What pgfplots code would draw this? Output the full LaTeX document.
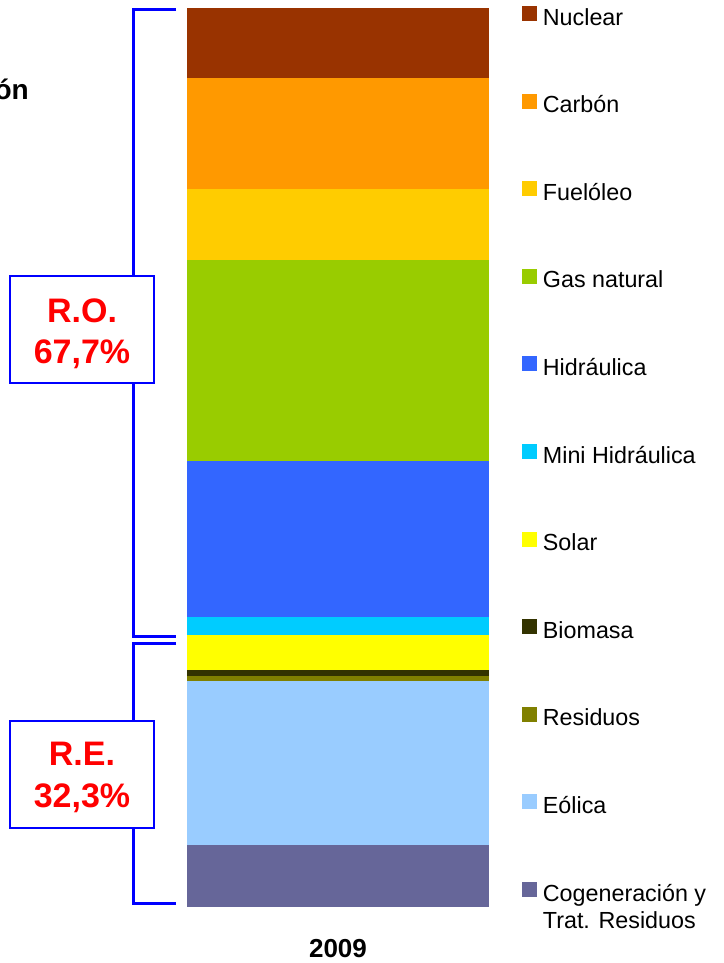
\documentclass[border=0pt]{standalone}
\usepackage{fontspec}
\setmainfont{Liberation Sans}
\usepackage{pgfplots}
\pgfplotsset{compat=1.18}
\definecolor{cNuc}{HTML}{993300}
\definecolor{cCar}{HTML}{FF9900}
\definecolor{cFue}{HTML}{FFCC00}
\definecolor{cGas}{HTML}{99CC00}
\definecolor{cHid}{HTML}{3366FF}
\definecolor{cMin}{HTML}{00CCFF}
\definecolor{cSol}{HTML}{FFFF00}
\definecolor{cBio}{HTML}{333300}
\definecolor{cRes}{HTML}{808000}
\definecolor{cEol}{HTML}{99CCFF}
\definecolor{cCog}{HTML}{666699}
\begin{document}
\begin{tikzpicture}[x=1pt,y=1pt]
\useasboundingbox (0,0) rectangle (723,963);
\begin{axis}[
  at={(187pt,56.3pt)}, anchor=south west,
  scale only axis, width=302pt, height=898.7pt,
  ybar stacked, bar width=302pt,
  xmin=-0.5, xmax=0.5, ymin=0, ymax=100,
  axis line style={draw=none},
  ytick=\empty, xtick={0}, xticklabels={\textbf{2009}},
  major tick length=0pt,
  xticklabel style={font=\fontsize{26}{30}\selectfont, inner sep=0pt, anchor=north, yshift=-32pt},
  legend image code/.code={\fill[#1] (0pt,-2pt) rectangle (15pt,13pt);},
  reverse legend,
  legend cell align=left,
  legend style={at={(1.109,1.0022)}, anchor=north west, draw=none, fill=none,
    inner sep=0pt, outer sep=0pt, row sep=63.6pt, column sep=6pt,
    font=\fontsize{23.3}{27.7}\selectfont,
    nodes={inner sep=0pt, text height=17pt, text depth=5pt}},
]
\addplot[fill=cCog, draw=none] coordinates {(0,6.90)};
\addplot[fill=cEol, draw=none] coordinates {(0,18.24)};
\addplot[fill=cRes, draw=none] coordinates {(0,0.56)};
\addplot[fill=cBio, draw=none] coordinates {(0,0.67)};
\addplot[fill=cSol, draw=none] coordinates {(0,3.89)};
\addplot[fill=cMin, draw=none] coordinates {(0,2.00)};
\addplot[fill=cHid, draw=none] coordinates {(0,17.35)};
\addplot[fill=cGas, draw=none] coordinates {(0,22.36)};
\addplot[fill=cFue, draw=none] coordinates {(0,7.90)};
\addplot[fill=cCar, draw=none] coordinates {(0,12.35)};
\addplot[fill=cNuc, draw=none] coordinates {(0,7.78)};
\legend{{\begin{tabular}[t]{@{}l@{}}Cogeneración y\\Trat. Residuos\end{tabular}},Eólica,Residuos,Biomasa,Solar,Mini Hidráulica,Hidráulica,Gas natural,Fuelóleo,Carbón,Nuclear}
\end{axis}
% brackets
\draw[blue, line width=3pt] (176,953.5) -- (133.5,953.5) -- (133.5,326) -- (176,326);
\draw[blue, line width=3pt] (176,319) -- (133.5,319) -- (133.5,59) -- (176,59);
% boxes
\draw[blue, line width=2pt, fill=white] (10,687) rectangle (154,580);
\draw[blue, line width=2pt, fill=white] (10,242) rectangle (154,135);
\node[anchor=base, red, font=\fontsize{34}{40}\selectfont\bfseries, inner sep=0pt] at (82,640) {R.O.};
\node[anchor=base, red, font=\fontsize{34}{40}\selectfont\bfseries, inner sep=0pt] at (82,599) {67,7\%};
\node[anchor=base, red, font=\fontsize{34}{40}\selectfont\bfseries, inner sep=0pt] at (82,197) {R.E.};
\node[anchor=base, red, font=\fontsize{34}{40}\selectfont\bfseries, inner sep=0pt] at (82,155) {32,3\%};
\node[anchor=base east, font=\fontsize{28}{32}\selectfont\bfseries, inner sep=0pt] at (29,863) {ón};
\end{tikzpicture}
\end{document}
